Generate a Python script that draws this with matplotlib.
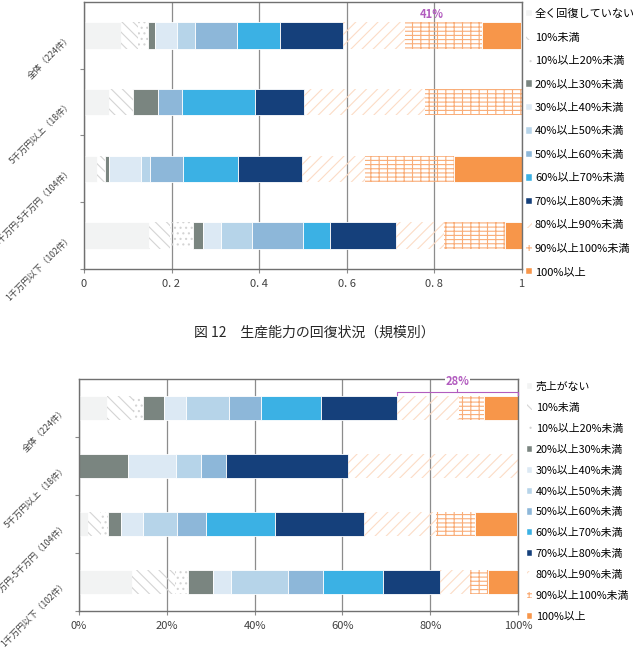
import matplotlib
matplotlib.use('Agg')
import matplotlib.pyplot as plt
import matplotlib.patches as mpatches
import numpy as np

plt.rcParams['font.family'] = ['Noto Sans CJK JP', 'DejaVu Sans']
plt.rcParams['hatch.linewidth'] = 0.8

categories = ['全体（224件）', '5千万円以上（18件）', '1千万円-5千万円（104件）', '1千万円以下（102件）']

levels_top = ['全く回復していない', '10%未満', '10%以上20%未満', '20%以上30%未満', '30%以上40%未満',
              '40%以上50%未満', '50%以上60%未満', '60%以上70%未満', '70%以上80%未満',
              '80%以上90%未満', '90%以上100%未満', '100%以上']
levels_bottom = ['売上がない'] + levels_top[1:]

# share of each level, one row per category (top chart: production capacity)
capacity_all = [0.085, 0.039, 0.023, 0.016, 0.050, 0.041, 0.096, 0.098, 0.144, 0.142, 0.176, 0.090]
capacity_50m = [0.056, 0.056, 0.0, 0.056, 0.0, 0.0, 0.056, 0.167, 0.111, 0.278, 0.222, 0.0]
capacity_10m_50m = [0.029, 0.019, 0.0, 0.010, 0.072, 0.020, 0.077, 0.125, 0.146, 0.144, 0.204, 0.156]
capacity_10m = [0.149, 0.048, 0.053, 0.021, 0.041, 0.071, 0.117, 0.062, 0.151, 0.110, 0.139, 0.040]

# bottom chart: sales
sales_all = [0.064, 0.060, 0.022, 0.048, 0.050, 0.098, 0.072, 0.137, 0.173, 0.141, 0.057, 0.077]
sales_50m = [0.0, 0.0, 0.0, 0.111, 0.111, 0.056, 0.056, 0.0, 0.278, 0.389, 0.0, 0.0]
sales_10m_50m = [0.020, 0.030, 0.017, 0.029, 0.049, 0.078, 0.067, 0.156, 0.203, 0.165, 0.088, 0.096]
sales_10m = [0.120, 0.098, 0.030, 0.058, 0.040, 0.130, 0.079, 0.137, 0.130, 0.068, 0.041, 0.068]

top_label = '41%'
bottom_label = '28%'

# (face colour, hatch, hatch colour) per level
styles = [
    ('#f2f3f3', None, None),
    ('none', '\\\\\\', '#d4d4d4'),
    ('none', '...', '#d4d4d4'),
    ('#7a8580', None, None),
    ('#dce9f4', None, None),
    ('#b6d4e9', None, None),
    ('#8db7d9', None, None),
    ('#3bb1e4', None, None),
    ('#15407b', None, None),
    ('none', '///', '#fcdcc6'),
    ('none', '----||', '#f9ad78'),
    ('#f7964a', None, None),
]

PURPLE = '#b25cbf'
GRID = '#8c8c8c'


def draw_bars(ax, rows):
    data = np.array(rows)
    y = np.arange(len(rows))
    left = np.zeros(len(rows))
    for i, (fc, hatch, hc) in enumerate(styles):
        vals = data[:, i]
        if hatch:
            ax.barh(y, vals, left=left, height=0.4, color='none', edgecolor=hc,
                    hatch=hatch, linewidth=0, zorder=2)
        else:
            ax.barh(y, vals, left=left, height=0.4, color=fc, edgecolor='white',
                    linewidth=0.6, zorder=2)
        left += vals
    return data


def style_axes(ax, ticklabels):
    ax.set_xlim(0, 1)
    ax.set_ylim(3.5, -0.5)
    ax.set_xticks([0, 0.2, 0.4, 0.6, 0.8, 1.0])
    ax.set_xticklabels(ticklabels, fontsize=8, color='#404040')
    ax.xaxis.grid(True, color=GRID, linewidth=0.9, zorder=0)
    ax.set_axisbelow(True)
    ax.set_yticks([0.5, 1.5, 2.5, 3.5])
    ax.set_yticklabels([])
    ax.set_yticks([0, 1, 2, 3], minor=True)
    ax.set_yticklabels(categories, minor=True, rotation=45, ha='right',
                       rotation_mode='anchor', fontsize=6.3, color='#404040')
    ax.tick_params(axis='y', which='major', length=3, color=GRID)
    ax.tick_params(axis='y', which='minor', length=0, pad=10)
    ax.tick_params(axis='x', length=3, color=GRID, pad=4)
    for s in ax.spines.values():
        s.set_color('#707070')
        s.set_linewidth(1.0)


def add_legend(ax, labels, anchor, spacing, size):
    handles = []
    for (fc, hatch, hc), lab in zip(styles, labels):
        if hatch:
            handles.append(mpatches.Patch(facecolor='none', edgecolor=hc, hatch=hatch,
                                          linewidth=0, label=lab))
        else:
            handles.append(mpatches.Patch(facecolor=fc, edgecolor='white', linewidth=0.3,
                                          label=lab))
    ax.legend(handles=handles, loc='upper left', bbox_to_anchor=anchor,
              bbox_transform=fig.transFigure, frameon=False, fontsize=size,
              handlelength=0.5, handleheight=0.5, handletextpad=0.3,
              labelspacing=spacing, borderpad=0, borderaxespad=0)


fig = plt.figure(figsize=(6.33, 6.53), dpi=100)

ax1 = fig.add_axes([84 / 633, 1 - 269 / 653, 437.5 / 633, 267 / 653])
draw_bars(ax1, [capacity_all, capacity_50m, capacity_10m_50m, capacity_10m])
style_axes(ax1, ['0', '0. 2', '0. 4', '0. 6', '0. 8', '1'])
ax1.text(sum(capacity_all[:9]) + sum(capacity_all[9:]) / 2, -0.32, top_label,
         color=PURPLE, fontsize=8, fontweight='bold', ha='center', va='center')
add_legend(ax1, levels_top, (526 / 633, 1 - 9 / 653), 1.21, 8)

ax2 = fig.add_axes([79 / 633, 1 - 611 / 653, 439 / 633, 232 / 653])
data2 = draw_bars(ax2, [sales_all, sales_50m, sales_10m_50m, sales_10m])
style_axes(ax2, ['0%', '20%', '40%', '60%', '80%', '100%'])
x0 = data2[0, :9].sum()
x1 = data2[0].sum()
xm = (x0 + x1) / 2
yb = -0.28
ax2.plot([x0, x0, x1, x1], [yb + 0.05, yb, yb, yb + 0.05], color=PURPLE, lw=0.8,
         clip_on=False, zorder=4)
ax2.plot([xm, xm], [yb, yb - 0.05], color=PURPLE, lw=0.8, clip_on=False, zorder=4)
ax2.text(xm, -0.45, bottom_label, color=PURPLE, fontsize=8, fontweight='bold',
         ha='center', va='center', zorder=5, clip_on=False,
         bbox=dict(facecolor='white', edgecolor='none', pad=0.5))
add_legend(ax2, levels_bottom, (527 / 633, 1 - 382 / 653), 1.0, 7.8)

fig.text(314 / 633, 1 - 333 / 653, '図 12　生産能力の回復状況（規模別）',
         ha='center', va='center', fontsize=10, color='#262626')

fig.savefig('out.png', dpi=100)
